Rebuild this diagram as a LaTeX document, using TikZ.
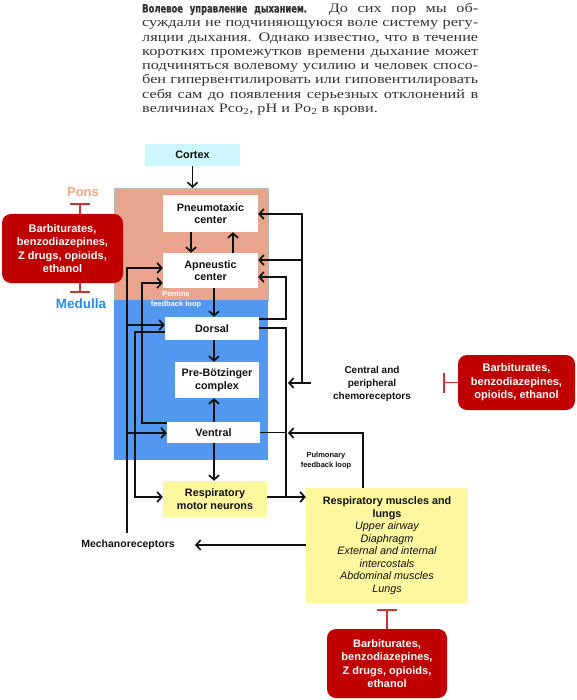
\documentclass[tikz,border=0pt]{standalone}
\usepackage{fontspec}
\setmainfont{Liberation Serif}
\setsansfont{Liberation Sans}
\newfontfamily\bodyfont[FakeStretch=1.25]{Liberation Serif}
\newfontfamily\headfont[FakeStretch=0.73,FakeBold=0.8]{DejaVu Sans}
\usetikzlibrary{arrows.meta}
\definecolor{cortexc}{HTML}{CCF6FA}
\definecolor{ponsc}{HTML}{E9A48E}
\definecolor{medc}{HTML}{5398F0}
\definecolor{yelc}{HTML}{FDF7A0}
\definecolor{drugc}{HTML}{C00000}
\definecolor{inhc}{HTML}{CC3333}
\definecolor{ponslab}{HTML}{F2A585}
\definecolor{medlab}{HTML}{2A8BE0}
\definecolor{txtc}{HTML}{111111}
\definecolor{parac}{HTML}{333333}
\begin{document}
\begin{tikzpicture}[x=1pt,y=-1pt,
  >={Straight Barb[length=4.5pt,width=10pt]},
  conn/.style={line width=1.7pt, draw=txtc},
  arr/.style={conn,->},
  inhib/.style={line width=1.6pt, draw=inhc, -{Bar[width=20pt]}},
  lbl/.style={font=\sffamily\bfseries\fontsize{10.8}{12.5}\selectfont, text=txtc, align=center, inner sep=0pt},
  wbox/.style={lbl, fill=white},
  ybox/.style={lbl, fill=yelc},
  drug/.style={font=\sffamily\bfseries\fontsize{11}{13.5}\selectfont, text=white, fill=drugc, rounded corners=9pt, align=center, inner sep=0pt},
  para/.style={font=\bodyfont\fontsize{13}{14.3}\selectfont, text=parac, anchor=base west, inner sep=0pt},
  small/.style={font=\sffamily\bfseries\fontsize{7.5}{10}\selectfont, align=center, inner sep=0pt},
  region/.style={inner sep=0pt, anchor=north west},
]
\useasboundingbox (0,0) rectangle (576,700);

% paragraph
\node[para] (p1) at (142,12.5) {\makebox[336pt][s]{{\headfont\bfseries\fontsize{11.5}{14.3}\selectfont Волевое управление дыханием.} До сих пор мы об-}};
\node[para] (p2) at (142,26.8) {\makebox[336pt][s]{суждали не подчиняющуюся воле систему регу-}};
\node[para] (p3) at (142,41.1) {\makebox[336pt][s]{ляции дыхания. Однако известно, что в течение}};
\node[para] (p4) at (142,55.4) {\makebox[336pt][s]{коротких промежутков времени дыхание может}};
\node[para] (p5) at (142,69.7) {\makebox[336pt][s]{подчиняться волевому усилию и человек спосо-}};
\node[para] (p6) at (142,84.0) {\makebox[336pt][s]{бен гипервентилировать или гиповентилировать}};
\node[para] (p7) at (142,98.3) {\makebox[336pt][s]{себя сам до появления серьезных отклонений в}};
\node[para] (p8) at (142,112.6) {величинах Pco\textsubscript{2}, pH и Po\textsubscript{2} в крови.};

% regions
\node[region, fill=ponsc, draw=gray!55, line width=0.4pt, minimum width=154pt, minimum height=112pt] (pons) at (114,188) {};
\node[region, fill=medc, minimum width=154pt, minimum height=160pt] (medulla) at (114,300) {};

% nodes
\node[lbl, fill=cortexc, minimum width=95pt, minimum height=22pt] (cortex) at (192.5,155) {Cortex};
\node[wbox, minimum width=95pt, minimum height=37pt] (pneumo) at (210.5,213.5) {Pneumotaxic\\center};
\node[wbox, minimum width=95pt, minimum height=35pt] (apn) at (210.5,270.5) {Apneustic\\center};
\node[wbox, minimum width=94pt, minimum height=23pt] (dorsal) at (212,328.5) {Dorsal};
\node[wbox, minimum width=84pt, minimum height=36pt] (prebot) at (217,380) {Pre-Bötzinger\\complex};
\node[wbox, minimum width=93pt, minimum height=21pt] (ventral) at (213.5,432.5) {Ventral};
\node[ybox, minimum width=104pt, minimum height=36pt] (motor) at (215,499) {Respiratory\\motor neurons};
\node[ybox, minimum width=162pt, minimum height=115pt] (muscles) at (387,545.5) {Respiratory muscles and\\lungs\\{\mdseries\itshape Upper airway}\\{\mdseries\itshape Diaphragm}\\{\mdseries\itshape External and internal}\\{\mdseries\itshape intercostals}\\{\mdseries\itshape Abdominal muscles}\\{\mdseries\itshape Lungs}};

\node[drug, minimum width=121pt, minimum height=69pt] (drugL) at (62.5,248.5) {Barbiturates,\\benzodiazepines,\\Z drugs, opioids,\\ethanol};
\node[drug, minimum width=117pt, minimum height=55pt] (drugR) at (516.5,382.5) {Barbiturates,\\benzodiazepines,\\opioids, ethanol};
\node[drug, minimum width=120pt, minimum height=69pt] (drugB) at (387,663.5) {Barbiturates,\\benzodiazepines,\\Z drugs, opioids,\\ethanol};

% labels
\node[font=\sffamily\bfseries\fontsize{13}{15}\selectfont, text=ponslab, inner sep=0pt] (ponsl) at (83,192) {Pons};
\node[font=\sffamily\bfseries\fontsize{13.5}{15}\selectfont, text=medlab, inner sep=0pt] (medl) at (81,304) {Medulla};
\node[small, text=white] (pfl) at (176,300) {Pontine\\feedback loop};
\node[small, text=txtc] (pul) at (326,461) {Pulmonary\\feedback loop};
\node[lbl, font=\sffamily\bfseries\fontsize{10}{13}\selectfont] (chemo) at (372,384) {Central and\\peripheral\\chemoreceptors};
\node[lbl, font=\sffamily\bfseries\fontsize{10.5}{12.5}\selectfont] (mech) at (128,545) {Mechanoreceptors};

% vertical flow
\draw[arr] (cortex.south) -- (cortex.south |- pons.north);
\draw[arr] (pneumo.south -| 191,0) -- (apn.north -| 191,0);
\draw[arr] (apn.north -| 233,0) -- (pneumo.south -| 233,0);
\draw[arr] (apn.south -| 214,0) -- (dorsal.north -| 214,0);
\draw[arr] (dorsal.south -| 214,0) -- (prebot.north -| 214,0);
\draw[arr] (ventral.north -| 214,0) -- (prebot.south -| 214,0);
\draw[arr] (ventral.south -| 214,0) -- (motor.north -| 214,0);

% left feedback lines
\coordinate (mechTop) at (127,533);
\draw[arr] (mechTop) |- (apn.west |- 0,268);
\draw[arr] (mechTop |- 0,325) -- (dorsal.west |- 0,325);
\draw[arr] (mechTop |- 0,433) -- (ventral.west |- 0,433);
\draw[arr] (dorsal.west |- 0,332) -- (135,332) |- (motor.west |- 0,497);
\draw[arr] (ventral.west |- 0,423) -- (142,423) |- (apn.west |- 0,283);

% right lines
\coordinate (chemoOut) at (311,383);
\coordinate (chemoJ) at (302,383);
\draw[arr] (chemoOut) -- (288,383);
\draw[arr] (chemoJ) |- (pneumo.east |- 0,214);
\draw[arr] (chemoJ |- 0,260) -- (apn.east |- 0,260);
\draw[arr] (dorsal.east |- 0,319) -- (286,319) |- (apn.east |- 0,277);
\draw[conn] (dorsal.east |- 0,328) -- (286,328) -- (286,497);
\draw[conn] (ventral.east) -- (ventral.east -| 286,0);
\draw[arr] (motor.east |- 0,497) -- (muscles.west |- 0,497);
\draw[arr] (muscles.north -| 363,0) |- (288,433);
\draw[arr] (muscles.west |- 0,545) -- (195,545);

% inhibitions
\draw[inhib] (drugL.north -| 80,0) -- (80,203);
\draw[inhib] (drugL.south -| 80,0) -- (80,293);
\draw[inhib] (drugR.west) -- (443,382.5);
\draw[inhib] (drugB.north) -- (387,609);
\end{tikzpicture}
\end{document}
